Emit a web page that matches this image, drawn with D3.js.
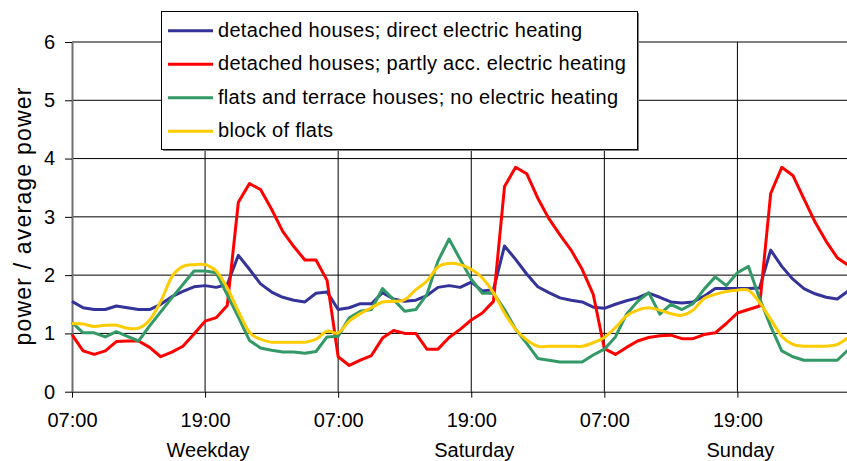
<!DOCTYPE html>
<html>
<head>
<meta charset="utf-8">
<script src="https://cdn.jsdelivr.net/npm/d3@7"></script>
<style>
    body { margin: 0; background: #fff; }
    text { font-family: "Liberation Sans", Arial, sans-serif; fill: #000; }
</style>
</head>
<body>
<div id="chart"></div>
<script>
// hourly values (power / average power), first point = 07:00 weekday
const directElectric = [1.55, 1.44, 1.41, 1.41, 1.47, 1.44, 1.41, 1.41, 1.50, 1.63, 1.72, 1.80, 1.82, 1.79, 1.84, 2.34, 2.10, 1.85, 1.71, 1.62,
    1.57, 1.54, 1.69, 1.71, 1.41, 1.44, 1.51, 1.51, 1.70, 1.59, 1.55, 1.57, 1.65, 1.79, 1.82, 1.79, 1.88, 1.73, 1.75, 2.50,
    2.27, 2.02, 1.80, 1.70, 1.61, 1.57, 1.54, 1.45, 1.43, 1.50, 1.56, 1.61, 1.69, 1.62, 1.54, 1.52, 1.54, 1.64, 1.77, 1.77,
    1.77, 1.77, 1.78, 2.43, 2.15, 1.93, 1.77, 1.68, 1.62, 1.59, 1.73];

const partlyAcc = [0.98, 0.70, 0.64, 0.70, 0.86, 0.87, 0.87, 0.76, 0.60, 0.68, 0.78, 0.99, 1.21, 1.27, 1.48, 3.25, 3.57, 3.47, 3.13, 2.75,
    2.49, 2.26, 2.26, 1.91, 0.60, 0.45, 0.54, 0.62, 0.92, 1.05, 1.00, 1.00, 0.73, 0.73, 0.93, 1.07, 1.23, 1.35, 1.55, 3.52,
    3.85, 3.74, 3.32, 2.97, 2.69, 2.43, 2.10, 1.67, 0.74, 0.64, 0.76, 0.87, 0.93, 0.96, 0.97, 0.91, 0.91, 0.98, 1.01, 1.17,
    1.35, 1.41, 1.47, 3.40, 3.85, 3.71, 3.31, 2.91, 2.58, 2.30, 2.17];

const noElectric = [1.19, 1.01, 1.01, 0.94, 1.03, 0.95, 0.87, 1.13, 1.37, 1.61, 1.84, 2.07, 2.07, 2.04, 1.66, 1.28, 0.88, 0.75, 0.71, 0.68,
    0.68, 0.66, 0.69, 0.94, 0.95, 1.27, 1.38, 1.41, 1.77, 1.58, 1.38, 1.41, 1.67, 2.24, 2.62, 2.27, 1.93, 1.69, 1.69, 1.41,
    1.07, 0.83, 0.57, 0.54, 0.51, 0.51, 0.51, 0.63, 0.73, 0.94, 1.33, 1.55, 1.70, 1.33, 1.50, 1.41, 1.51, 1.76, 1.97, 1.82,
    2.04, 2.15, 1.60, 1.12, 0.70, 0.60, 0.54, 0.54, 0.54, 0.54, 0.72];

const blockOfFlats = [1.17, 1.16, 1.12, 1.14, 1.14, 1.09, 1.09, 1.23, 1.55, 1.97, 2.15, 2.18, 2.18, 2.07, 1.78, 1.38, 1.02, 0.90, 0.85, 0.85,
    0.85, 0.85, 0.90, 1.04, 1.01, 1.21, 1.34, 1.44, 1.54, 1.55, 1.58, 1.75, 1.90, 2.14, 2.20, 2.18, 2.10, 1.95, 1.70, 1.35,
    1.07, 0.89, 0.78, 0.78, 0.78, 0.78, 0.78, 0.84, 0.93, 1.10, 1.30, 1.40, 1.44, 1.40, 1.34, 1.31, 1.40, 1.60, 1.67, 1.72,
    1.74, 1.74, 1.53, 1.24, 0.95, 0.81, 0.78, 0.78, 0.78, 0.81, 0.93];

const seriesNames = [
    "detached houses; direct electric heating",
    "detached houses; partly acc. electric heating",
    "flats and terrace houses; no electric heating",
    "block of flats"
];
const seriesColors = ["#333399", "#ff0000", "#339966", "#ffcc00"];

const tickHours = [0, 12, 24, 36, 48, 60];
const tickLabels = ["07:00", "19:00", "07:00", "19:00", "07:00", "19:00"];
const dayLabels = ["Weekday", "Saturday", "Sunday"];
const yTicks = [0, 1, 2, 3, 4, 5, 6];


class LoadVis {
    constructor(parentElement) {
        this.parentElement = parentElement;
        this.series = [directElectric, partlyAcc, noElectric, blockOfFlats];
        this.initVis();
    }

    initVis() {
        let vis = this;

        vis.width = 847;
        vis.height = 461;

        vis.svg = d3.select("#" + vis.parentElement).append("svg")
            .attr("width", vis.width)
            .attr("height", vis.height);

        // scales, 72 hours over the full plot (last 07:00 falls outside the picture)
        vis.x = d3.scaleLinear()
            .domain([0, 72])
            .range([72, 870.5]);

        vis.y = d3.scaleLinear()
            .domain([0, 6])
            .range([391.7, 42]);

        // grid
        vis.svg.append("g").attr("class", "h-grid")
            .selectAll("line")
            .data(yTicks.filter(d => d > 0))
            .enter().append("line")
            .attr("x1", vis.x(0))
            .attr("x2", vis.width)
            .attr("y1", d => vis.y(d))
            .attr("y2", d => vis.y(d))
            .attr("stroke", "#000")
            .attr("stroke-width", 1);

        vis.svg.append("g").attr("class", "v-grid")
            .selectAll("line")
            .data(tickHours.filter(d => d > 0))
            .enter().append("line")
            .attr("x1", d => vis.x(d))
            .attr("x2", d => vis.x(d))
            .attr("y1", vis.y(0))
            .attr("y2", vis.y(6))
            .attr("stroke", "#000")
            .attr("stroke-width", 1);

        // axes
        vis.yAxis = d3.axisLeft(vis.y)
            .tickValues(yTicks)
            .tickFormat(d3.format("d"))
            .tickSize(7)
            .tickSizeOuter(0)
            .tickPadding(10);

        vis.xAxis = d3.axisBottom(vis.x)
            .tickValues(tickHours)
            .tickFormat((d, i) => tickLabels[i])
            .tickSize(6)
            .tickSizeOuter(0)
            .tickPadding(15);

        vis.svg.append("g")
            .attr("class", "x-axis")
            .attr("transform", `translate(0, ${vis.y(0)})`)
            .call(vis.xAxis);

        vis.svg.append("g")
            .attr("class", "y-axis")
            .attr("transform", `translate(${vis.x(0)}, 0)`)
            .call(vis.yAxis);

        vis.svg.selectAll(".x-axis text, .y-axis text")
            .style("font-size", "20px")
            .style("font-family", '"Liberation Sans", Arial, sans-serif')
            .attr("fill", "#000");
        vis.svg.selectAll(".x-axis line, .x-axis path").attr("stroke", "#000");
        vis.svg.selectAll(".y-axis line").attr("stroke", "#000");
        vis.svg.select(".y-axis .domain").attr("stroke", "#707070").attr("stroke-width", 2);

        // day names under the 19:00 ticks
        vis.svg.append("g").attr("class", "day-labels")
            .selectAll("text")
            .data(dayLabels)
            .enter().append("text")
            .attr("x", (d, i) => vis.x(24 * i + 12) + 3)
            .attr("y", 457)
            .attr("text-anchor", "middle")
            .style("font-size", "20px")
            .text(d => d);

        // y label
        vis.svg.append("text")
            .attr("transform", `translate(31, 216) rotate(-90)`)
            .attr("text-anchor", "middle")
            .style("font-size", "23px")
            .style("letter-spacing", "1.2px")
            .text("power / average power");

        vis.updateVis();
    }

    updateVis() {
        let vis = this;

        let straight = d3.line()
            .x((d, i) => vis.x(i))
            .y(d => vis.y(d));

        let smooth = d3.line()
            .x((d, i) => vis.x(i))
            .y(d => vis.y(d))
            .curve(d3.curveCardinal.tension(0));

        vis.svg.append("g").attr("class", "lines")
            .selectAll("path")
            .data(vis.series)
            .enter().append("path")
            .attr("d", (d, i) => i === 3 ? smooth(d) : straight(d))
            .attr("fill", "none")
            .attr("stroke", (d, i) => seriesColors[i])
            .attr("stroke-width", 3)
            .attr("stroke-linejoin", "round");

        // legend
        let legend = vis.svg.append("g").attr("class", "legend");

        legend.append("rect")
            .attr("x", 163)
            .attr("y", 13)
            .attr("width", 476)
            .attr("height", 138)
            .attr("fill", "#808080");

        legend.append("rect")
            .attr("x", 161.5)
            .attr("y", 11.5)
            .attr("width", 476)
            .attr("height", 138)
            .attr("fill", "#fff")
            .attr("stroke", "#000")
            .attr("stroke-width", 1);

        let rows = legend.selectAll(".legend-row")
            .data(seriesNames)
            .enter().append("g")
            .attr("class", "legend-row")
            .attr("transform", (d, i) => `translate(0, ${30.7 + i * 33.5})`);

        rows.append("line")
            .attr("x1", 168)
            .attr("x2", 213)
            .attr("y1", 0)
            .attr("y2", 0)
            .attr("stroke", (d, i) => seriesColors[i])
            .attr("stroke-width", 3);

        rows.append("text")
            .attr("x", 218)
            .attr("y", 6)
            .style("font-size", "20px")
            .style("letter-spacing", "0.3px")
            .text(d => d);
    }
}

new LoadVis("chart");
</script>
</body>
</html>
